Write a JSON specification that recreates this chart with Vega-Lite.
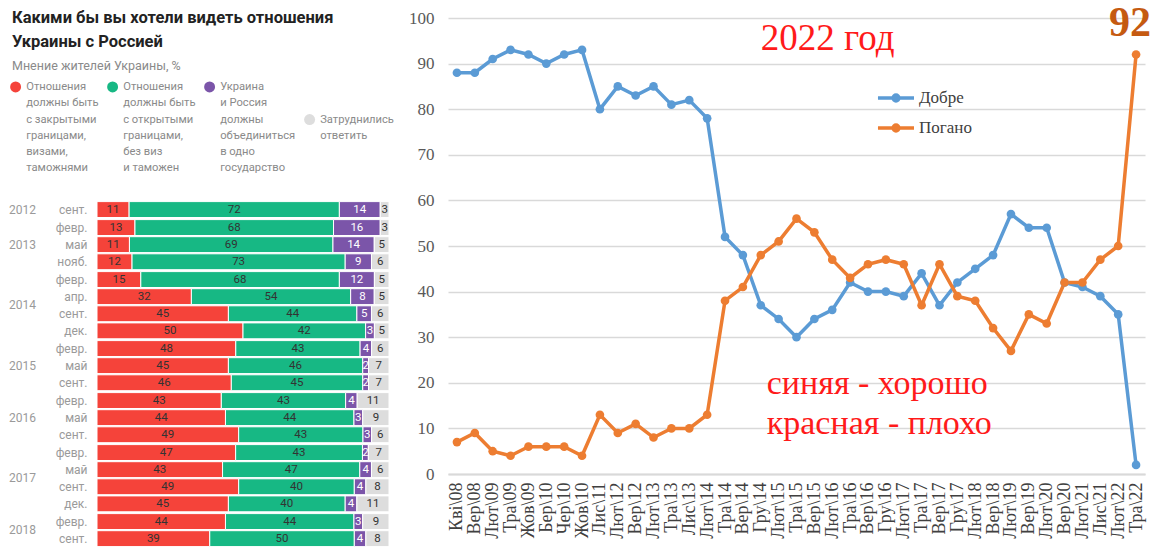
{
  "$schema": "https://vega.github.io/schema/vega-lite/v6.json",
  "background": "white",
  "padding": {"left": 9, "top": 2, "right": 0, "bottom": 0},
  "spacing": 14,
  "resolve": {"scale": {"color": "independent"}},
  "config": {"view": {"stroke": null}, "style": {"guide-label": {"lineHeight": 16.3}}},
  "hconcat": [
    {
      "vconcat": [
        {
          "title": {
            "text": ["Какими бы вы хотели видеть отношения", "Украины с Россией"],
            "subtitle": "Мнение жителей Украины, %",
            "orient": "bottom",
            "anchor": "start",
            "frame": "group",
            "dx": -85,
            "dy": -9,
            "font": "Roboto",
            "fontSize": 16.5,
            "fontWeight": "bold",
            "color": "#222222",
            "lineHeight": 24,
            "subtitleFont": "Roboto",
            "subtitleFontSize": 12.5,
            "subtitleColor": "#8a8a8a",
            "subtitlePadding": 9,
            "offset": 0
          },
          "width": 292,
          "height": 1,
          "data": {"values": []},
          "mark": "point"
        },
        {
          "data": {
            "values": [
              {"year": "2012", "month": "сент.", "i": 1, "a": 11, "b": 72, "c": 14, "d": 3},
              {"year": "2013", "month": "февр.", "i": 2, "a": 13, "b": 68, "c": 16, "d": 3},
              {"year": "2013", "month": "май", "i": 3, "a": 11, "b": 69, "c": 14, "d": 5},
              {"year": "2013", "month": "нояб.", "i": 4, "a": 12, "b": 73, "c": 9, "d": 6},
              {"year": "2014", "month": "февр.", "i": 5, "a": 15, "b": 68, "c": 12, "d": 5},
              {"year": "2014", "month": "апр.", "i": 6, "a": 32, "b": 54, "c": 8, "d": 5},
              {"year": "2014", "month": "сент.", "i": 7, "a": 45, "b": 44, "c": 5, "d": 6},
              {"year": "2014", "month": "дек.", "i": 8, "a": 50, "b": 42, "c": 3, "d": 5},
              {"year": "2015", "month": "февр.", "i": 9, "a": 48, "b": 43, "c": 4, "d": 6},
              {"year": "2015", "month": "май", "i": 10, "a": 45, "b": 46, "c": 2, "d": 7},
              {"year": "2015", "month": "сент.", "i": 11, "a": 46, "b": 45, "c": 2, "d": 7},
              {"year": "2016", "month": "февр.", "i": 12, "a": 43, "b": 43, "c": 4, "d": 11},
              {"year": "2016", "month": "май", "i": 13, "a": 44, "b": 44, "c": 3, "d": 9},
              {"year": "2016", "month": "сент.", "i": 14, "a": 49, "b": 43, "c": 3, "d": 6},
              {"year": "2017", "month": "февр.", "i": 15, "a": 47, "b": 43, "c": 2, "d": 7},
              {"year": "2017", "month": "май", "i": 16, "a": 43, "b": 47, "c": 4, "d": 6},
              {"year": "2017", "month": "сент.", "i": 17, "a": 49, "b": 40, "c": 4, "d": 8},
              {"year": "2017", "month": "дек.", "i": 18, "a": 45, "b": 40, "c": 4, "d": 11},
              {"year": "2018", "month": "февр.", "i": 19, "a": 44, "b": 44, "c": 3, "d": 9},
              {"year": "2018", "month": "сент.", "i": 20, "a": 39, "b": 50, "c": 4, "d": 8}
            ]
          },
          "transform": [{"fold": ["a", "b", "c", "d"], "as": ["k", "v"]}],
          "facet": {
            "row": {
              "field": "year",
              "type": "ordinal",
              "title": null,
              "header": {
                "labelOrient": "left",
                "labelAngle": 0,
                "labelFont": "Roboto",
                "labelFontSize": 12,
                "labelColor": "#9a9a9a",
                "labelPadding": -8
              }
            }
          },
          "spacing": 0,
          "resolve": {"scale": {"y": "independent"}},
          "spec": {
            "width": 292,
            "height": {"step": 17.1},
            "encoding": {
              "y": {
                "field": "month",
                "type": "nominal",
                "sort": {"field": "i", "op": "min"},
                "title": null,
                "scale": {"paddingInner": 0.07, "paddingOuter": 0.035},
                "axis": {
                  "domain": false,
                  "ticks": false,
                  "labelFont": "Roboto",
                  "labelFontSize": 12,
                  "labelColor": "#9a9a9a",
                  "labelPadding": 10
                }
              },
              "order": {"field": "k"}
            },
            "layer": [
              {
                "mark": {"type": "bar", "stroke": "white", "strokeWidth": 1},
                "encoding": {
                  "x": {"field": "v", "type": "quantitative", "stack": "normalize", "axis": null},
                  "color": {
                    "field": "k",
                    "type": "nominal",
                    "scale": {
                      "domain": ["a", "b", "c", "d"],
                      "range": ["#f5433a", "#17b884", "#7b55a9", "#dddddd"]
                    },
                    "legend": {
                      "title": null,
                      "orient": "none",
                      "legendX": -87,
                      "legendY": 63,
                      "direction": "horizontal",
                      "columns": 4,
                      "gridAlign": "each",
                      "columnPadding": 8,
                      "symbolType": "circle",
                      "symbolSize": 120,
                      "symbolStrokeWidth": 0,
                      "labelFont": "Roboto",
                      "labelFontSize": 11.2,
                      "labelColor": "#8a8a8a",
                      "labelBaseline": "middle",
                      "labelOffset": 5,
                      "labelLimit": 200,
                      "labelExpr": "datum.value == 'a' ? ['Отношения', 'должны быть', 'с закрытыми', 'границами,', 'визами,', 'таможнями'] : datum.value == 'b' ? ['Отношения', 'должны быть', 'с открытыми', 'границами,', 'без виз', 'и таможен'] : datum.value == 'c' ? ['Украина', 'и Россия', 'должны', 'объединиться', 'в одно', 'государство'] : ['Затруднились', 'ответить']"
                    }
                  }
                }
              },
              {
                "mark": {"type": "text", "font": "Roboto", "fontSize": 11.5},
                "encoding": {
                  "x": {"field": "v", "type": "quantitative", "stack": "normalize", "bandPosition": 0.5},
                  "detail": {"field": "k"},
                  "text": {"field": "v", "type": "quantitative"},
                  "color": {"condition": {"test": "datum.k == 'c'", "value": "white"}, "value": "#333333"}
                }
              }
            ]
          }
        }
      ],
      "spacing": 129
    },
    {
      "width": 697,
      "height": 456,
      "layer": [
        {
          "data": {
            "values": [
              {"t": "Кві\\08", "Добре": 88, "Погано": 7},
              {"t": "Вер\\08", "Добре": 88, "Погано": 9},
              {"t": "Лют\\09", "Добре": 91, "Погано": 5},
              {"t": "Тра\\09", "Добре": 93, "Погано": 4},
              {"t": "Жов\\09", "Добре": 92, "Погано": 6},
              {"t": "Бер\\10", "Добре": 90, "Погано": 6},
              {"t": "Чер\\10", "Добре": 92, "Погано": 6},
              {"t": "Жов\\10", "Добре": 93, "Погано": 4},
              {"t": "Лис\\11", "Добре": 80, "Погано": 13},
              {"t": "Лют\\12", "Добре": 85, "Погано": 9},
              {"t": "Вер\\12", "Добре": 83, "Погано": 11},
              {"t": "Лют\\13", "Добре": 85, "Погано": 8},
              {"t": "Тра\\13", "Добре": 81, "Погано": 10},
              {"t": "Лис\\13", "Добре": 82, "Погано": 10},
              {"t": "Лют\\14", "Добре": 78, "Погано": 13},
              {"t": "Тра\\14", "Добре": 52, "Погано": 38},
              {"t": "Вер\\14", "Добре": 48, "Погано": 41},
              {"t": "Гру\\14", "Добре": 37, "Погано": 48},
              {"t": "Лют\\15", "Добре": 34, "Погано": 51},
              {"t": "Тра\\15", "Добре": 30, "Погано": 56},
              {"t": "Вер\\15", "Добре": 34, "Погано": 53},
              {"t": "Лют\\16", "Добре": 36, "Погано": 47},
              {"t": "Тра\\16", "Добре": 42, "Погано": 43},
              {"t": "Вер\\16", "Добре": 40, "Погано": 46},
              {"t": "Гру\\16", "Добре": 40, "Погано": 47},
              {"t": "Лют\\17", "Добре": 39, "Погано": 46},
              {"t": "Тра\\17", "Добре": 44, "Погано": 37},
              {"t": "Вер\\17", "Добре": 37, "Погано": 46},
              {"t": "Гру\\17", "Добре": 42, "Погано": 39},
              {"t": "Лют\\18", "Добре": 45, "Погано": 38},
              {"t": "Вер\\18", "Добре": 48, "Погано": 32},
              {"t": "Лют\\19", "Добре": 57, "Погано": 27},
              {"t": "Вер\\19", "Добре": 54, "Погано": 35},
              {"t": "Лют\\20", "Добре": 54, "Погано": 33},
              {"t": "Вер\\20", "Добре": 42, "Погано": 42},
              {"t": "Лют\\21", "Добре": 41, "Погано": 42},
              {"t": "Лис\\21", "Добре": 39, "Погано": 47},
              {"t": "Лют\\22", "Добре": 35, "Погано": 50},
              {"t": "Тра\\22", "Добре": 2, "Погано": 92}
            ]
          },
          "transform": [{"fold": ["Добре", "Погано"], "as": ["s", "v"]}],
          "encoding": {
            "x": {
              "field": "t",
              "type": "ordinal",
              "title": null,
              "scale": {
                "type": "point",
                "padding": 0.5,
                "domain": ["Кві\\08", "Вер\\08", "Лют\\09", "Тра\\09", "Жов\\09", "Бер\\10", "Чер\\10", "Жов\\10", "Лис\\11", "Лют\\12", "Вер\\12", "Лют\\13", "Тра\\13", "Лис\\13", "Лют\\14", "Тра\\14", "Вер\\14", "Гру\\14", "Лют\\15", "Тра\\15", "Вер\\15", "Лют\\16", "Тра\\16", "Вер\\16", "Гру\\16", "Лют\\17", "Тра\\17", "Вер\\17", "Гру\\17", "Лют\\18", "Вер\\18", "Лют\\19", "Вер\\19", "Лют\\20", "Вер\\20", "Лют\\21", "Лис\\21", "Лют\\22", "Тра\\22"]
              },
              "axis": {
                "labelAngle": -90,
                "labelFont": "Liberation Serif",
                "labelFontSize": 18,
                "labelColor": "#404040",
                "labelPadding": 8,
                "labelOverlap": false,
                "ticks": false,
                "grid": false,
                "domainColor": "#d9d9d9",
                "domainWidth": 2
              }
            },
            "y": {
              "field": "v",
              "type": "quantitative",
              "title": null,
              "scale": {"domain": [0, 100]},
              "axis": {
                "values": [0, 10, 20, 30, 40, 50, 60, 70, 80, 90, 100],
                "domain": false,
                "ticks": false,
                "gridColor": "#d9d9d9",
                "gridWidth": 1.5,
                "labelFont": "Liberation Serif",
                "labelFontSize": 17,
                "labelColor": "#595959",
                "labelPadding": 14
              }
            }
          },
          "layer": [
            {
              "mark": {"type": "line", "strokeWidth": 3.5, "point": {"filled": true, "size": 75}},
              "encoding": {
                "color": {
                  "field": "s",
                  "type": "nominal",
                  "scale": {"domain": ["Добре", "Погано"], "range": ["#5b9bd5", "#ed7d31"]},
                  "legend": {
                    "title": null,
                    "orient": "none",
                    "legendX": 428,
                    "legendY": 60,
                    "symbolType": "M-1,0L1,0M-0.16,0a0.16,0.16 0 1,0 0.32,0a0.16,0.16 0 1,0 -0.32,0",
                    "symbolSize": 1300,
                    "symbolStrokeWidth": 3.5,
                    "labelFont": "Liberation Serif",
                    "labelFontSize": 17,
                    "labelColor": "#404040",
                    "labelOffset": 3,
                    "rowPadding": 0
                  }
                }
              }
            },
            {
              "transform": [{"filter": {"and": [{"field": "t", "equal": "Тра\\22"}, {"field": "s", "equal": "Погано"}]}}],
              "mark": {"type": "text", "font": "Liberation Serif", "fontSize": 42, "fontWeight": "bold", "color": "#c55a11", "dy": -18, "dx": 15, "align": "right", "baseline": "alphabetic"},
              "encoding": {"text": {"field": "v", "type": "quantitative"}}
            }
          ]
        },
        {
          "data": {"values": [{"note": "2022 год"}]},
          "mark": {"type": "text", "font": "Liberation Serif", "fontSize": 37, "color": "#ff1a1a", "align": "left", "baseline": "alphabetic"},
          "encoding": {
            "x": {"datum": "Гру\\14", "type": "ordinal"},
            "y": {"datum": 93, "type": "quantitative"},
            "text": {"field": "note"}
          }
        },
        {
          "data": {"values": [{"note": "синяя - хорошо"}]},
          "mark": {"type": "text", "font": "Liberation Serif", "fontSize": 34, "color": "#ff1a1a", "align": "left", "baseline": "alphabetic", "dx": 6},
          "encoding": {
            "x": {"datum": "Гру\\14", "type": "ordinal"},
            "y": {"datum": 17.5, "type": "quantitative"},
            "text": {"field": "note"}
          }
        },
        {
          "data": {"values": [{"note": "красная - плохо"}]},
          "mark": {"type": "text", "font": "Liberation Serif", "fontSize": 34, "color": "#ff1a1a", "align": "left", "baseline": "alphabetic", "dx": 6},
          "encoding": {
            "x": {"datum": "Гру\\14", "type": "ordinal"},
            "y": {"datum": 8.8, "type": "quantitative"},
            "text": {"field": "note"}
          }
        }
      ]
    }
  ]
}
